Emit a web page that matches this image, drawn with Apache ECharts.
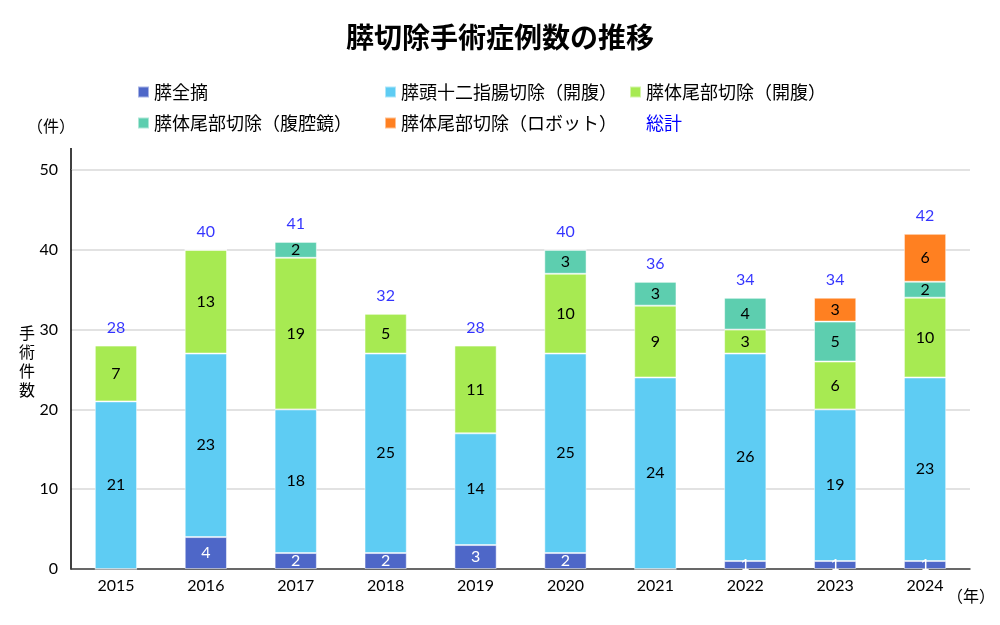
<!DOCTYPE html>
<html><head><meta charset="utf-8">
<script src="https://cdn.jsdelivr.net/npm/echarts@6/dist/echarts.min.js"></script>
<style>html,body{margin:0;padding:0;background:#fff}#c{width:1000px;height:625px}</style>
</head><body><div id="c"></div>
<script>
const years = ['2015','2016','2017','2018','2019','2020','2021','2022','2023','2024'];
const seriesNames = ['膵全摘','膵頭十二指腸切除（開腹）','膵体尾部切除（開腹）','膵体尾部切除（腹腔鏡）','膵体尾部切除（ロボット）'];
const totalName = '総計';
const totalPancreatectomy = [0,4,2,2,3,2,0,1,1,1];
const pdOpen = [21,23,18,25,14,25,24,26,19,23];
const dpOpen = [7,13,19,5,11,10,9,3,6,10];
const dpLap = [0,0,2,0,0,3,3,4,5,2];
const dpRobot = [0,0,0,0,0,0,0,0,3,6];
const totals = [28,40,41,32,28,40,36,34,34,42];
const yTicks = [0,10,20,30,40,50];

const colors = ['#4E67C8','#5ECCF3','#A7EA52','#5DCEAF','#FF8021'];
const FONT = "Lato, 'Noto Sans CJK JP', sans-serif";
const JP = "'Noto Sans CJK JP', sans-serif";
const values = [totalPancreatectomy, pdOpen, dpOpen, dpLap, dpRobot];

const barSeries = seriesNames.map((n, i) => ({
  name: n, type: 'bar', stack: 'total', barWidth: '47%',
  data: values[i],
  itemStyle: { color: colors[i], borderColor: 'rgba(255,255,255,0.5)', borderWidth: 1 },
  label: {
    show: true, position: 'inside', fontFamily: FONT, fontSize: 16,
    color: i === 0 ? '#ffffff' : '#000000',
    formatter: p => p.value === 0 ? '' : String(p.value)
  }
}));

const legendText = { fontFamily: JP, fontSize: 18, color: '#000', rich: { t: { color: '#0000FF', fontFamily: JP, fontSize: 18 } } };
const legendBase = { top: 78, orient: 'vertical', itemGap: 13, itemWidth: 11, itemHeight: 11, icon: 'rect',
  textStyle: legendText, formatter: n => n === totalName ? '{t|' + n + '}' : n };

const chart = echarts.init(document.getElementById('c'));
chart.setOption({
  animation: false,
  title: [
    { text: '膵切除手術症例数の推移', left: 'center', top: 18,
      textStyle: { fontFamily: JP, fontSize: 28, fontWeight: 'bold', color: '#000' } },
    { text: '（件）', left: 22, top: 113, textStyle: { fontFamily: JP, fontSize: 16, fontWeight: 'normal', color: '#000' } },
    { text: '手\n術\n件\n数', left: 14, top: 318, textStyle: { fontFamily: JP, fontSize: 16, lineHeight: 19, fontWeight: 'normal', color: '#000' } },
    { text: '（年）', left: 942, top: 583, textStyle: { fontFamily: JP, fontSize: 16, fontWeight: 'normal', color: '#000' } }
  ],
  legend: [
    Object.assign({ data: [seriesNames[0], seriesNames[3]], left: 132 }, legendBase),
    Object.assign({ data: [seriesNames[1], seriesNames[4]], left: 379 }, legendBase),
    Object.assign({ data: [seriesNames[2], totalName], left: 624 }, legendBase)
  ],
  grid: { left: 71, right: 30, top: 170, bottom: 56, containLabel: false },
  xAxis: {
    type: 'category', data: years,
    axisLine: { lineStyle: { color: '#404040', width: 1.5 } },
    axisTick: { show: false },
    axisLabel: { fontFamily: FONT, fontSize: 16, color: '#000', margin: 9 }
  },
  yAxis: {
    type: 'value', min: yTicks[0], max: yTicks[yTicks.length - 1], interval: 10,
    axisLine: { show: true, lineStyle: { color: '#000', width: 1.5 } },
    axisTick: { show: false },
    axisLabel: { fontFamily: FONT, fontSize: 16, color: '#000', margin: 13 },
    splitLine: { lineStyle: { color: '#d9d9d9', width: 1.5 } }
  },
  graphic: [
    { type: 'line', shape: { x1: 71, y1: 148, x2: 71, y2: 170 }, style: { stroke: '#000', lineWidth: 1.5 } }
  ],
  series: barSeries.concat([{
    name: totalName, type: 'scatter', data: totals, symbolSize: 1,
    itemStyle: { color: 'rgba(255,255,255,0)' },
    label: { show: true, position: 'top', distance: 9, fontFamily: FONT, fontSize: 16, color: '#0000FF' },
    z: 5
  }])
});
</script></body></html>
